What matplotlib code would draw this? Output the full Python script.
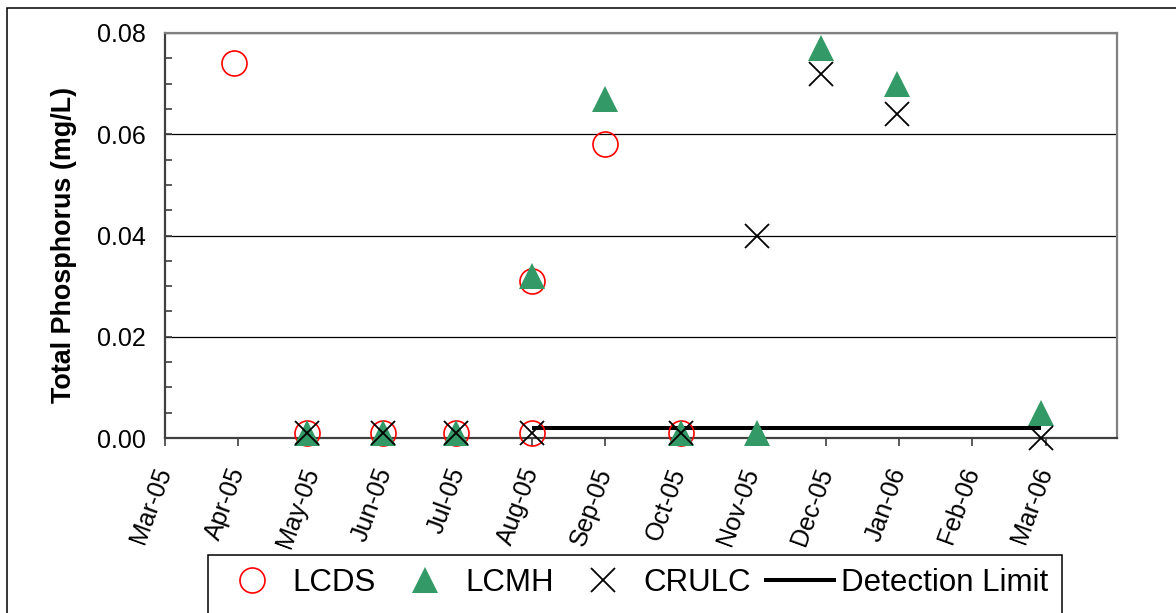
import matplotlib
matplotlib.use("Agg")
import matplotlib.pyplot as plt
from matplotlib.lines import Line2D
from matplotlib.patches import Rectangle
from matplotlib.ticker import MultipleLocator, FormatStrFormatter
import pandas as pd

plt.rcParams['font.family'] = ['Liberation Sans', 'DejaVu Sans']

# Sampling dates and total phosphorus results (mg/L) per station
lcds_dates = ['2005-03-30', '2005-04-29', '2005-05-31', '2005-06-30',
              '2005-08-01', '2005-08-01', '2005-09-01', '2005-10-02']
lcds_tp = [0.074, 0.001, 0.001, 0.001, 0.031, 0.001, 0.058, 0.001]

lcmh_dates = ['2005-04-29', '2005-05-31', '2005-06-30', '2005-08-01',
              '2005-09-01', '2005-10-02', '2005-11-03', '2005-11-29',
              '2005-12-31', '2006-02-27']
lcmh_tp = [0.001, 0.001, 0.001, 0.032, 0.067, 0.001, 0.001, 0.077, 0.070, 0.005]

crulc_dates = ['2005-04-29', '2005-05-31', '2005-06-30', '2005-08-01',
               '2005-10-02', '2005-11-03', '2005-11-29', '2005-12-31',
               '2006-02-27']
crulc_tp = [0.001, 0.001, 0.001, 0.001, 0.001, 0.040, 0.072, 0.064, 0.000]

detection_dates = ['2005-08-01', '2006-02-27']
detection_tp = [0.002, 0.002]

axis_start = '2005-03-01'
axis_months = 12


def month_pos(dates, start=axis_start):
    """Position on a month-based axis: whole months since start plus day fraction."""
    d = pd.to_datetime(pd.Series(dates))
    s = pd.Timestamp(start)
    return list((d.dt.year - s.year) * 12 + (d.dt.month - s.month)
                + (d.dt.day - 1) / d.dt.days_in_month)


tick_dates = pd.date_range(axis_start, periods=axis_months + 1, freq='MS')
tick_labels = list(tick_dates.strftime('%b-%y'))

W, H = 1176, 613
fig = plt.figure(figsize=(W / 100, H / 100), dpi=100)
ax = fig.add_axes([165 / W, 1 - 438 / H, (1117 - 165) / W, (438 - 33) / H])

green = '#339966'
ax.plot(month_pos(detection_dates), detection_tp, color='black', lw=2.9,
        solid_capstyle='butt', zorder=2.8, clip_on=False, label='Detection Limit')
ax.plot(month_pos(lcds_dates), lcds_tp, ls='none', marker='o', ms=18,
        mfc='none', mec='#ff0000', mew=1.2, zorder=3, clip_on=False, label='LCDS')
ax.plot(month_pos(lcmh_dates), lcmh_tp, ls='none', marker='^', ms=18.5,
        mfc=green, mec=green, mew=0, zorder=4, clip_on=False, label='LCMH')
ax.plot(month_pos(crulc_dates), crulc_tp, ls='none', marker='x', ms=17.5,
        mec='black', mew=1.3, zorder=5, clip_on=False, label='CRULC')

ax.set_xlim(0, axis_months + 0.97)
ax.set_ylim(0, 0.08)
ax.set_xticks(range(len(tick_labels)))
ax.set_xticklabels(tick_labels, rotation=70, ha='right', va='center',
                   rotation_mode='anchor')
ax.yaxis.set_major_locator(MultipleLocator(0.02))
ax.yaxis.set_minor_locator(MultipleLocator(0.005))
ax.yaxis.set_major_formatter(FormatStrFormatter('%.2f'))

ax.tick_params(axis='x', direction='out', length=6, width=1.2, color='#404040',
               labelsize=18, pad=16)
ax.tick_params(axis='y', which='both', direction='in', length=5, width=1.2,
               color='#404040', labelsize=18, pad=14)

ax.set_axisbelow(True)
ax.yaxis.grid(True, color='black', lw=0.9)

for side in ('left', 'bottom'):
    ax.spines[side].set_color('#404040')
    ax.spines[side].set_linewidth(1.6)
for side in ('top', 'right'):
    ax.spines[side].set_color('#808080')
    ax.spines[side].set_linewidth(1.6)

ax.set_ylabel('Total Phosphorus (mg/L)', fontsize=19.4, fontweight='bold')
ax.yaxis.set_label_coords((77 - 165) / (1117 - 165), (438 - 245) / (438 - 33))

# Outer chart border
fig.patches.append(Rectangle((7 / W, -0.2), 1.2, 1.2 - 8 / H, transform=fig.transFigure,
                             fill=False, edgecolor='black', lw=1.1))
# Legend box
fig.patches.append(Rectangle((208 / W, -0.2), (1062 - 208) / W, 0.2 + 1 - 555 / H,
                             transform=fig.transFigure, fill=False,
                             edgecolor='black', lw=1.1))

handles = [
    Line2D([], [], ls='none', marker='o', ms=18, mfc='none', mec='#ff0000', mew=1.2),
    Line2D([], [], ls='none', marker='^', ms=18.5, mfc=green, mec=green, mew=0),
    Line2D([], [], ls='none', marker='x', ms=17.5, mec='black', mew=1.3),
    Line2D([], [], color='black', lw=2.9, solid_capstyle='butt'),
]
fig.legend(handles, ['LCDS', 'LCMH', 'CRULC', 'Detection Limit'],
           loc='upper left', bbox_to_anchor=(208 / W, 1 - 560 / H), ncol=4,
           frameon=False, fontsize=22.5, handlelength=2.3, handletextpad=0.15,
           columnspacing=0.42, borderpad=0.26, borderaxespad=0)

fig.savefig('out.png', dpi=100)
